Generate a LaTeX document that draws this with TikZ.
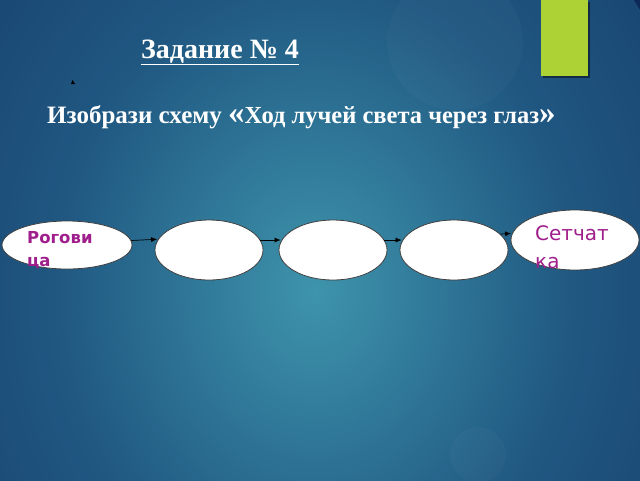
\documentclass[tikz,border=0pt]{standalone}
\usepackage{fontspec}
\setmainfont{Liberation Serif}
\newfontfamily\lblfont{DejaVu Sans}
\usetikzlibrary{shapes.geometric,arrows.meta,positioning}
\definecolor{slidenavy}{RGB}{14,40,88}
\definecolor{slidemid}{RGB}{32,88,130}
\definecolor{slideteal}{RGB}{62,148,172}
\definecolor{barlime}{RGB}{172,210,54}
\definecolor{lblmagenta}{RGB}{160,30,140}
\pgfdeclareradialshading{slideglow}{\pgfpoint{0bp}{0bp}}{color(0bp)=(slideteal); color(16bp)=(slidemid); color(42bp)=(slidenavy); color(50bp)=(slidenavy)}

\begin{document}
\begin{tikzpicture}[x=1pt,y=-1pt,
    oval/.style={ellipse,draw=black!75,line width=.8pt,fill=white,inner sep=0pt},
    lbl/.style={text=lblmagenta,inner sep=0pt,align=left,anchor=north west},
    ray/.style={-{Latex[length=6pt,width=5pt]},line width=.7pt,black,shorten >=1pt},
    heading/.style={text=white,inner sep=0pt,font=\bfseries}
]
    \useasboundingbox (0,0) rectangle (640,480);
    % background
    \begin{scope}
      \clip (0,0) rectangle (640,480);
      \fill[slidenavy] (0,0) rectangle (640,480);
      \shade[shading=slideglow] (315,290) ellipse [x radius=400,y radius=480];
      \fill[white,opacity=.025] (455,42) circle (68);
      \fill[white,opacity=.025] (478,455) circle (28);
    \end{scope}
    \fill[black,opacity=.45] (543,2) rectangle (590,78);
    \fill[barlime] (541,0) rectangle (588,76);
    \fill[black] (71,84) -- (72.5,80) -- (75,84) -- cycle;

    \node[heading,anchor=base,font=\bfseries\fontsize{28}{32}\selectfont] (task) at (220,58) {\underline{Задание № 4}};
    \node[heading,anchor=base west,font=\bfseries\fontsize{25}{30}\selectfont] (ask) at (47,123)
      {Изобрази схему {\fontsize{33}{34}\selectfont«}{\fontsize{24.5}{30}\selectfont Ход лучей света через глаз}{\fontsize{33}{34}\selectfont»}};

    \node[oval,minimum width=130,minimum height=48] (rog) at (67,245) {};
    \node[oval,minimum width=108,minimum height=60] (o2) at (209,250) {};
    \node[oval,minimum width=108,minimum height=60] (o3) at (333,250) {};
    \node[oval,minimum width=108,minimum height=60] (o4) at (454,250) {};
    \node[oval,minimum width=128,minimum height=60] (set) at (575,240) {};

    \node[lbl,font=\lblfont\bfseries\fontsize{16.5}{23}\selectfont] (rogtxt) at (27,231) {Рогови\\ца};
    \node[lbl,font=\lblfont\fontsize{20}{28}\selectfont] (settxt) at (535,225) {Сетчат\\ка};

    \draw[ray] (rog.4) -- (o2.168);
    \draw[ray] (o2.11) -- (o3.169);
    \draw[ray] (o3.11) -- (o4.169);
    \draw[ray] (o4.19) -- (set.174);
\end{tikzpicture}
\end{document}
